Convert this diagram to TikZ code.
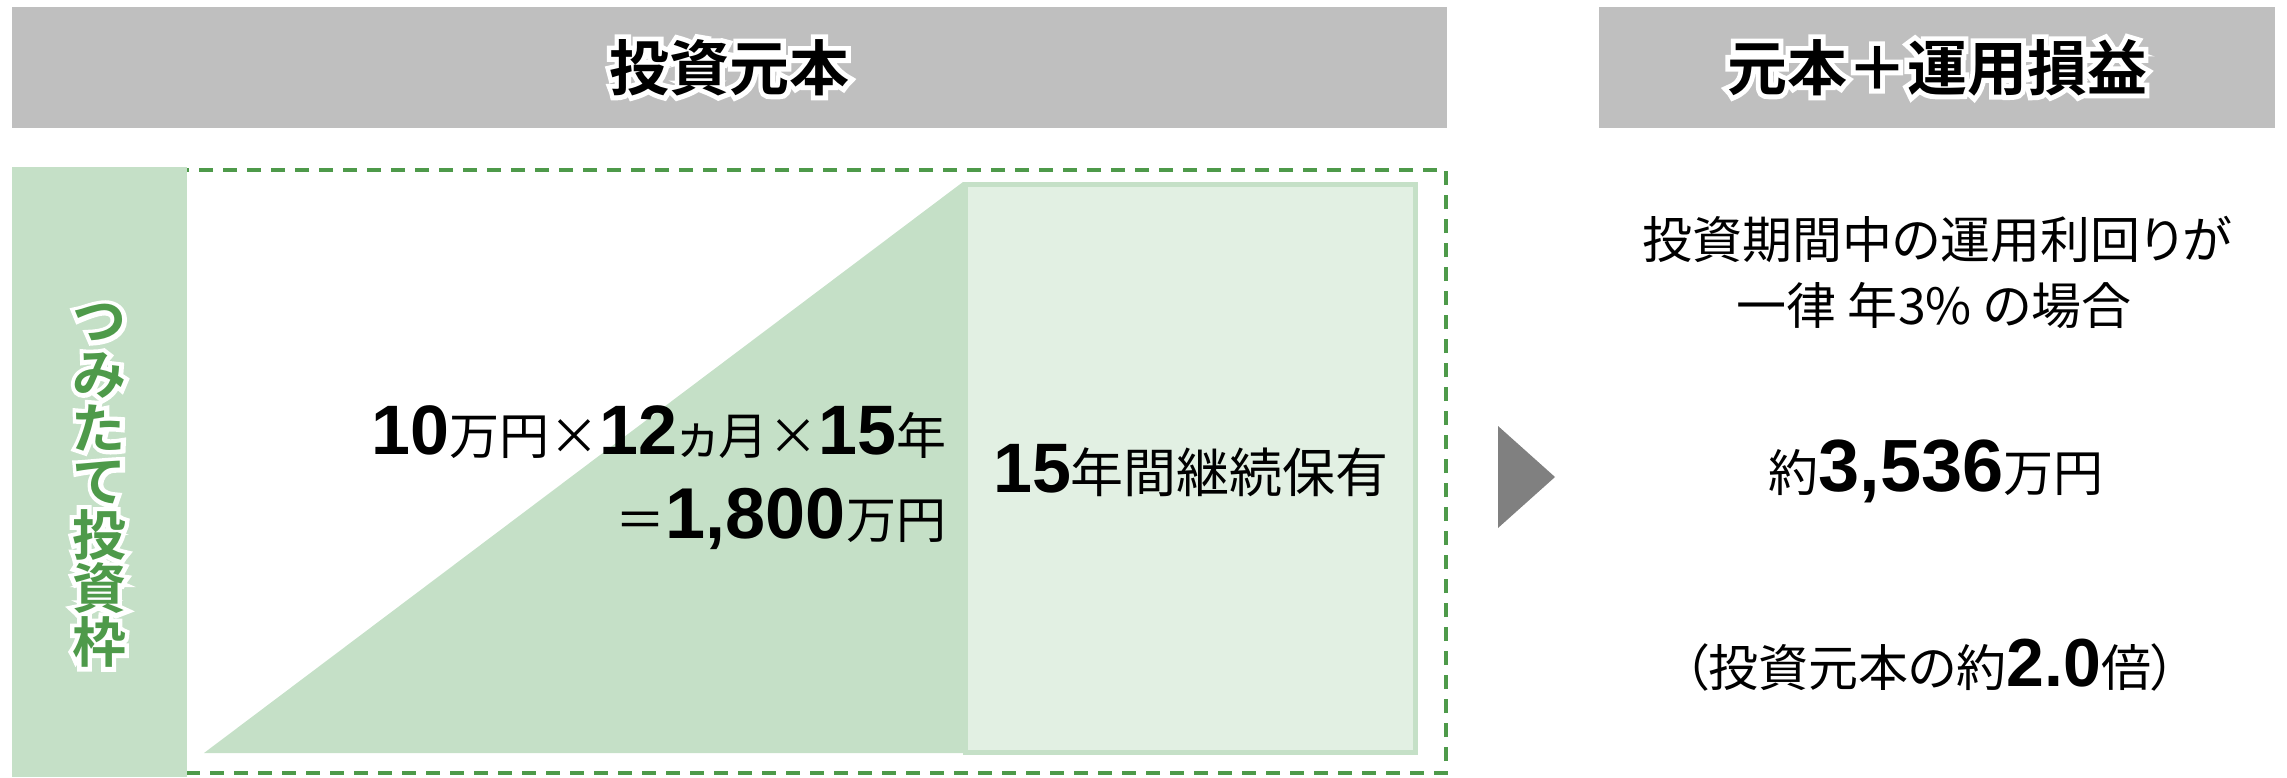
\documentclass[tikz,border=0pt]{standalone}
\usepackage{fontspec}
\newfontfamily\jp{Noto Sans CJK JP}[BoldFont={Noto Sans CJK JP Bold},RawFeature=+palt]
\newfontfamily\jpglow{Noto Sans CJK JP Bold}[FakeBold=16,RawFeature=+palt]
\newfontfamily\numf{Liberation Sans}
\newcommand\bn[2]{{\numf\bfseries\fontsize{#1}{#1}\selectfont #2}}
\newcommand\jt[2]{{\jp\fontsize{#1}{#1}\selectfont #2}}
\definecolor{hdr}{RGB}{191,191,191}
\definecolor{gmid}{RGB}{197,224,199}
\definecolor{glight}{RGB}{226,240,227}
\definecolor{gdark}{RGB}{78,154,74}
\definecolor{arrowgray}{RGB}{128,128,128}
\begin{document}
\begin{tikzpicture}[x=1pt,y=-1pt,
  txt/.style={inner sep=0pt,outer sep=0pt},
  hdrbox/.style={fill=hdr,inner sep=0pt,minimum height=121pt},
  hdrtxt/.style={txt,font={\jp\bfseries\fontsize{60}{60}\selectfont}},
  hdrglow/.style={txt,text=white,font={\jpglow\fontsize{60}{60}\selectfont}},
  vtxt/.style={txt,align=center,text=gdark,font={\jp\bfseries\fontsize{54}{53.6}\selectfont}},
  vglow/.style={txt,align=center,text=white,font={\jpglow\fontsize{54}{53.6}\selectfont}}]
\useasboundingbox (0,0) rectangle (2287,777);
% headers
\node[hdrbox,minimum width=1435pt] (h1) at (729.5,67.5) {};
\node[hdrbox,minimum width=676pt] (h2) at (1937,67.5) {};
\node[hdrglow] (h1g) at (h1.center) {投資元本};
\node[hdrtxt] (h1t) at (h1.center) {投資元本};
\node[hdrglow] (h2g) at (h2.center) {元本＋運用損益};
\node[hdrtxt] (h2t) at (h2.center) {元本＋運用損益};
% dashed frame
\draw[gdark,line width=4pt,dash pattern=on 14pt off 10pt] (117,170) rectangle (1446,773);
% left panel
\fill[gmid] (12,167) rectangle (187,777);
\node[vglow] (vg) at (99,486) {つ\\み\\た\\て\\投\\資\\枠};
\node[vtxt] (vt) at (99,486) {つ\\み\\た\\て\\投\\資\\枠};
% triangle and box
\fill[gmid] (204,753) -- (963,182) -- (963,753) -- cycle;
\draw[gmid,fill=glight,line width=5pt] (965,184) rectangle (1415,752);
% texts
\node[txt,anchor=east] (calc1) at (946,432) {\bn{70}{10}\jt{50}{万円×}\bn{70}{12}\jt{50}{ヵ月×}\bn{70}{15}\jt{50}{年}};
\node[txt,anchor=east] (calc2) at (946,519) {\jt{50}{＝}\bn{72}{1,800}\jt{50}{万円}};
\node[txt] (hold) at (1191,471) {\bn{70}{15}\jt{53}{年間継続保有}};
% arrow
\fill[arrowgray] (1498,426) -- (1555,477) -- (1498,528) -- cycle;
% right texts
\node[txt] (r1) at (1937,239) {\jt{50}{投資期間中の運用利回りが}};
\node[txt] (r2) at (1934,305) {\jt{50}{一律 年3\% の場合}};
\node[txt] (r3) at (1936,471) {\jt{50}{約}\bn{74}{3,536}\jt{50}{万円}};
\node[txt] (r4) at (1930,665) {\jt{50}{（投資元本の約}\bn{68}{2.0}\jt{50}{倍）}};
\end{tikzpicture}
\end{document}
